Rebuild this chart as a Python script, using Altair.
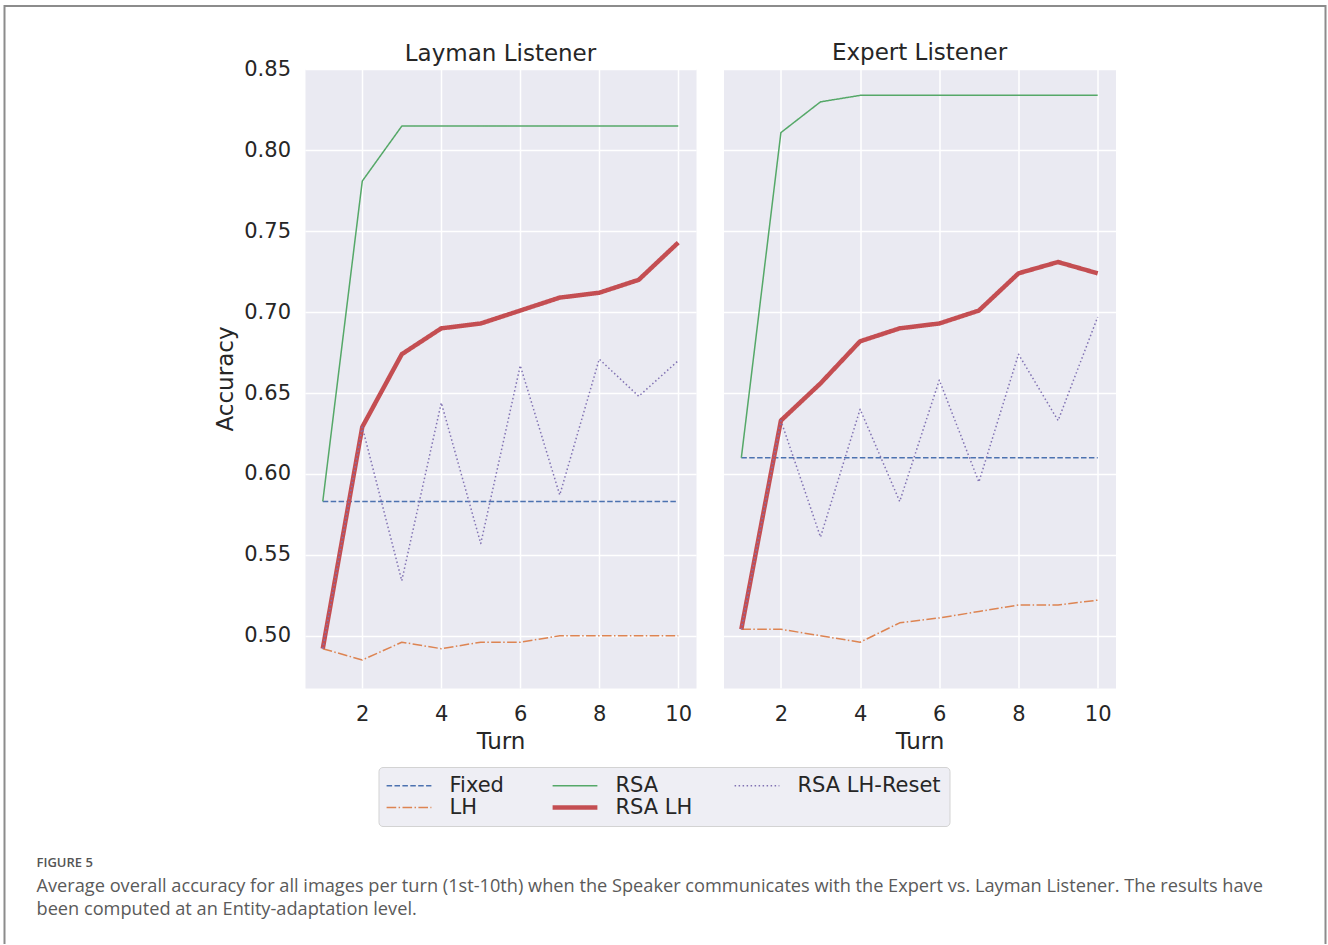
import altair as alt
import pandas as pd

# ---------------- data ----------------
turns = [1, 2, 3, 4, 5, 6, 7, 8, 9, 10]

# Layman Listener
layman_fixed = [0.583, 0.583, 0.583, 0.583, 0.583, 0.583, 0.583, 0.583, 0.583, 0.583]
layman_lh = [0.492, 0.485, 0.496, 0.492, 0.496, 0.496, 0.500, 0.500, 0.500, 0.500]
layman_rsa = [0.583, 0.781, 0.815, 0.815, 0.815, 0.815, 0.815, 0.815, 0.815, 0.815]
layman_rsa_lh = [0.492, 0.629, 0.674, 0.690, 0.693, 0.701, 0.709, 0.712, 0.720, 0.743]
layman_rsa_lh_reset = [0.492, 0.629, 0.534, 0.644, 0.557, 0.667, 0.587, 0.671, 0.648, 0.670]

# Expert Listener
expert_fixed = [0.610, 0.610, 0.610, 0.610, 0.610, 0.610, 0.610, 0.610, 0.610, 0.610]
expert_lh = [0.504, 0.504, 0.500, 0.496, 0.508, 0.511, 0.515, 0.519, 0.519, 0.522]
expert_rsa = [0.610, 0.811, 0.830, 0.834, 0.834, 0.834, 0.834, 0.834, 0.834, 0.834]
expert_rsa_lh = [0.504, 0.633, 0.656, 0.682, 0.690, 0.693, 0.701, 0.724, 0.731, 0.724]
expert_rsa_lh_reset = [0.504, 0.633, 0.561, 0.640, 0.583, 0.658, 0.595, 0.674, 0.633, 0.697]

panels = ["Layman Listener", "Expert Listener"]
series_order = ["Fixed", "LH", "RSA", "RSA LH", "RSA LH-Reset"]

y_ticks = [0.50, 0.55, 0.60, 0.65, 0.70, 0.75, 0.80, 0.85]
x_ticks = [2, 4, 6, 8, 10]

caption_head = "FIGURE 5"
caption_line1 = ("Average overall accuracy for all images per turn (1st-10th) when the Speaker "
                 "communicates with the Expert vs. Layman Listener. The results have")
caption_line2 = "been computed at an Entity-adaptation level."

# ---------------- styles ----------------
colors = {"Fixed": "#4C72B0", "LH": "#DD8452", "RSA": "#55A868",
          "RSA LH": "#C44E52", "RSA LH-Reset": "#8172B3"}
dashes = {"Fixed": [5.5, 2.4], "LH": [9.6, 2.4, 1.5, 2.4], "RSA": [1, 0],
          "RSA LH": [1, 0], "RSA LH-Reset": [1.5, 2.5]}
widths = {"Fixed": 1.5, "LH": 1.5, "RSA": 1.5, "RSA LH": 4.5, "RSA LH-Reset": 1.5}

TXT = "#262626"
FONT = "DejaVu Sans"

series_data = {
    "Layman Listener": {"Fixed": layman_fixed, "LH": layman_lh, "RSA": layman_rsa,
                        "RSA LH": layman_rsa_lh, "RSA LH-Reset": layman_rsa_lh_reset},
    "Expert Listener": {"Fixed": expert_fixed, "LH": expert_lh, "RSA": expert_rsa,
                        "RSA LH": expert_rsa_lh, "RSA LH-Reset": expert_rsa_lh_reset},
}

rows = []
for p in panels:
    for s in series_order:
        for t, v in zip(turns, series_data[p][s]):
            rows.append({"panel": p, "series": s, "turn": t, "acc": v})
df = pd.DataFrame(rows)

W_L, W_R, H, GAP = 391, 392, 619, 27.5
x_scale = alt.Scale(domain=[0.55, 10.45], nice=False, zero=False)
y_scale = alt.Scale(domain=[0.4677, 0.8503], nice=False, zero=False)

legend = alt.Legend(
    title=None, orient="none", legendX=73.5, legendY=698, columns=3,
    symbolType="M-1.3,0H4.3", symbolSize=256, labelOffset=42,
    columnPadding=39, rowPadding=0, padding=8,
    fillColor="#EEEEF4", strokeColor="#D3D3D3", cornerRadius=4,
    labelFont=FONT, labelFontSize=21, labelColor=TXT,
)


def make_panel(name, first):
    d = df[df["panel"] == name]
    lg = legend if first else None
    if first:
        y_axis = alt.Axis(values=y_ticks, format=".2f", title="Accuracy",
                          titleX=-72.5, titleY=H / 2, titleAngle=270,
                          titleBaseline="alphabetic", titleAlign="center",
                          labelPadding=14.5)
    else:
        y_axis = alt.Axis(values=y_ticks, labels=False, title=None)
    enc = dict(
        x=alt.X("turn:Q", scale=x_scale,
                axis=alt.Axis(values=x_ticks, format="d", title="Turn")),
        y=alt.Y("acc:Q", scale=y_scale, axis=y_axis),
        color=alt.Color("series:N", legend=lg,
                        scale=alt.Scale(domain=series_order,
                                        range=[colors[s] for s in series_order])),
        strokeDash=alt.StrokeDash("series:N", legend=lg,
                                  scale=alt.Scale(domain=series_order,
                                                  range=[dashes[s] for s in series_order])),
        strokeWidth=alt.StrokeWidth("series:N", legend=lg,
                                    scale=alt.Scale(type="ordinal", domain=series_order,
                                                    range=[widths[s] for s in series_order])),
    )
    layers = [alt.Chart(d).transform_filter(alt.datum.series == s)
              .mark_line(strokeJoin="round").encode(**enc) for s in series_order]
    return alt.layer(*layers).properties(
        width=W_L if first else W_R, height=H,
        title=alt.TitleParams(name, fontSize=23, font=FONT, color=TXT,
                              fontWeight="normal", offset=9, dy=35 if first else 23,
                              baseline="alphabetic", anchor="middle", frame="group"),
    )


left = make_panel("Layman Listener", True)
right = make_panel("Expert Listener", False)

# decoration cell (figure frame and caption), placed as a third cell of the row
ox = W_L + GAP + W_R + GAP  # offset of this cell from the left panel's origin
L0 = 305.5                  # page x of the left panel's plot origin
T0 = 69                     # page y of the plot origin
one = pd.DataFrame({"k": [0]})
frame_col = "#8c8c8c"
deco_layers = [
    alt.Chart(one).mark_rule(color=frame_col, strokeWidth=2).encode(
        x=alt.value(5 - L0 - ox), x2=alt.value(1326 - L0 - ox), y=alt.value(6 - T0)),
    alt.Chart(one).mark_rule(color=frame_col, strokeWidth=2).encode(
        x=alt.value(5 - L0 - ox), y=alt.value(5 - T0), y2=alt.value(944 - T0)),
    alt.Chart(one).mark_rule(color=frame_col, strokeWidth=2).encode(
        x=alt.value(1326 - L0 - ox), y=alt.value(5 - T0), y2=alt.value(944 - T0)),
    alt.Chart(one).mark_text(
        align="left", baseline="alphabetic", font="Open Sans", fontSize=13,
        fontWeight=600, color="#555555").encode(
        x=alt.value(37 - L0 - ox), y=alt.value(867 - T0), text=alt.value(caption_head)),
    alt.Chart(one).mark_text(
        align="left", baseline="alphabetic", font="Open Sans", fontSize=18.2,
        color="#5a5a5a").encode(
        x=alt.value(37 - L0 - ox), y=alt.value(892 - T0), text=alt.value(caption_line1)),
    alt.Chart(one).mark_text(
        align="left", baseline="alphabetic", font="Open Sans", fontSize=18.2,
        color="#5a5a5a").encode(
        x=alt.value(37 - L0 - ox), y=alt.value(915 - T0), text=alt.value(caption_line2)),
]
deco = alt.layer(*deco_layers).properties(
    width=1, height=1,
    view=alt.ViewBackground(fill="transparent", stroke="transparent"),
)

chart = alt.hconcat(left, right, deco, spacing=GAP, bounds="flush").resolve_legend(
    color="independent", strokeDash="independent", strokeWidth="independent"
).properties(
    padding={"left": 3, "top": 3, "right": 0, "bottom": 0}
).configure(
    font=FONT, background="white"
).configure_view(
    fill="#EAEAF2", stroke="transparent"
).configure_axis(
    domain=False, ticks=False, tickSize=0, grid=True, gridColor="white", gridWidth=1.5,
    labelFont=FONT, labelFontSize=21, labelColor=TXT,
    titleFont=FONT, titleFontSize=23, titleColor=TXT, titleFontWeight="normal",
).configure_axisX(
    labelBaseline="alphabetic", labelPadding=32, titleY=60, titleBaseline="alphabetic",
)

chart.save("out.html", embed_options={"renderer": "svg", "actions": False})
